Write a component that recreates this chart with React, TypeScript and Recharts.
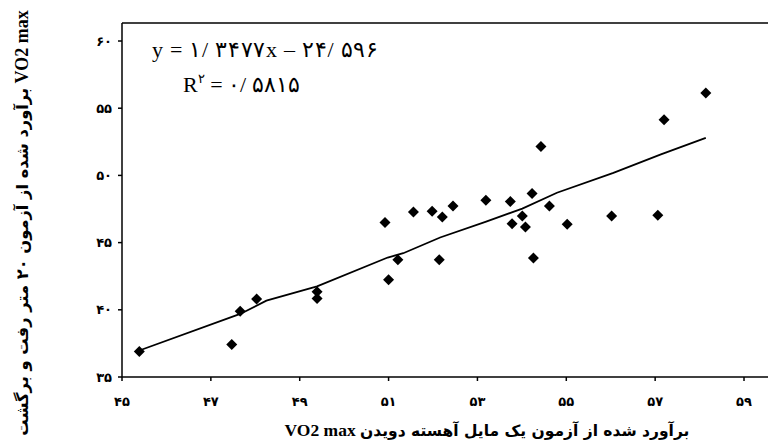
import {
  ComposedChart,
  Scatter,
  Line,
  XAxis,
  YAxis,
  ReferenceLine,
} from "recharts";

// measured points (x = mile-jog estimate, y = 20m shuttle estimate)
const pointX = [
  45.39, 47.47, 47.66, 48.03, 49.39, 49.39, 50.92, 51.0, 51.21, 51.56,
  51.98, 52.21, 52.14, 52.45, 53.19, 53.74, 53.78, 54.01, 54.08, 54.23,
  54.43, 54.26, 54.62, 55.02, 56.02, 57.06, 57.2, 58.14,
];
const pointY = [
  36.9, 37.42, 39.89, 40.8, 41.35, 40.85, 46.49, 42.24, 43.72, 47.28,
  47.33, 46.91, 43.72, 47.73, 48.15, 48.05, 46.41, 46.98, 46.17, 48.66,
  52.15, 43.85, 47.73, 46.36, 46.98, 47.03, 54.15, 56.13,
];

// trend line as drawn
const lineX = [45.39, 47.66, 48.25, 49.39, 50.98, 51.33, 52.16, 53.18, 54.01, 54.79, 56.06, 57.13, 58.14];
const lineY = [36.97, 39.69, 40.68, 41.74, 43.89, 44.21, 45.38, 46.54, 47.53, 48.71, 50.19, 51.56, 52.79];

const xTicks = [45, 47, 49, 51, 53, 55, 57, 59];
const xTickLabels = ["۴۵", "۴۷", "۴۹", "۵۱", "۵۳", "۵۵", "۵۷", "۵۹"];
const yTicks = [35, 40, 45, 50, 55, 60];
const yTickLabels = ["۳۵", "۴۰", "۴۵", "۵۰", "۵۵", "۶۰"];

const X_MAX = 59.54;
const Y_MAX = 61.34;

const scatterData = pointX.map((x, i) => ({ x, y: pointY[i] }));
const lineData = lineX.map((x, i) => ({ x, y: lineY[i] }));

const tickStyle = {
  fill: "#000",
  fontSize: 13,
  fontWeight: 700,
  fontFamily: "DejaVu Sans",
};

function Diamond(props: any) {
  const { cx, cy } = props;
  const r = 5.5;
  return (
    <polygon
      points={`${cx},${cy - r} ${cx + r},${cy} ${cx},${cy + r} ${cx - r},${cy}`}
      fill="#000"
    />
  );
}

export default function App() {
  return (
    <div style={{ position: "absolute", left: 0, top: 0, width: 769, height: 446, background: "#fff" }}>
      <ComposedChart
        width={769}
        height={446}
        margin={{ top: 23, right: 1, bottom: 0, left: 0 }}
      >
        <XAxis
          dataKey="x"
          type="number"
          domain={[45, X_MAX]}
          ticks={xTicks}
          tickFormatter={(v, i) => xTickLabels[i]}
          height={69}
          stroke="#000"
          strokeWidth={1.5}
          tickSize={4}
          tickMargin={16}
          tick={tickStyle}
          allowDataOverflow
        />
        <YAxis
          dataKey="y"
          type="number"
          domain={[35, Y_MAX]}
          ticks={yTicks}
          tickFormatter={(v, i) => yTickLabels[i]}
          width={122}
          stroke="#000"
          strokeWidth={1.5}
          tickSize={4}
          tickMargin={6}
          tick={tickStyle}
          allowDataOverflow
        />
        <ReferenceLine y={Y_MAX} stroke="#000" strokeWidth={1.5} />
        <Line
          data={lineData}
          dataKey="y"
          type="linear"
          stroke="#000"
          strokeWidth={1.8}
          dot={false}
          isAnimationActive={false}
        />
        <Scatter
          data={scatterData}
          dataKey="y"
          fill="#000"
          shape={<Diamond />}
          isAnimationActive={false}
        />
      </ComposedChart>

      <svg
        width={769}
        height={446}
        style={{ position: "absolute", left: 0, top: 0, pointerEvents: "none" }}
      >
        <text
          x={152}
          y={57}
          fontSize={22}
          fontFamily="Liberation Serif"
          fill="#000"
          textLength={226}
          lengthAdjust="spacing"
        >
          y = ۱/ ۳۴۷۷x – ۲۴/ ۵۹۶
        </text>
        <text x={183} y={92} fontSize={22} fontFamily="Liberation Serif" fill="#000">
          R<tspan fontSize={13} dy={-9}>۲</tspan>
          <tspan dy={9}> = ۰/ ۵۸۱۵</tspan>
        </text>
        <text
          x={487}
          y={436}
          textAnchor="middle"
          fontSize={15.5}
          fontWeight={700}
          fill="#000"
        >
          <tspan fontFamily="Liberation Serif" fontSize={17.5}>VO2  max </tspan>
          <tspan fontFamily="DejaVu Sans">برآورد شده از آزمون یک مایل آهسته دویدن</tspan>
        </text>
        <text
          x={0}
          y={0}
          transform="translate(28 223) rotate(-90)"
          textAnchor="middle"
          fontSize={16.3}
          fontWeight={700}
          fill="#000"
        >
          <tspan fontFamily="DejaVu Sans">برآورد شده از آزمون ۲۰ متر رفت و برگشت</tspan>
          <tspan fontFamily="Liberation Serif" fontSize={18}> VO2  max</tspan>
        </text>
      </svg>
    </div>
  );
}
